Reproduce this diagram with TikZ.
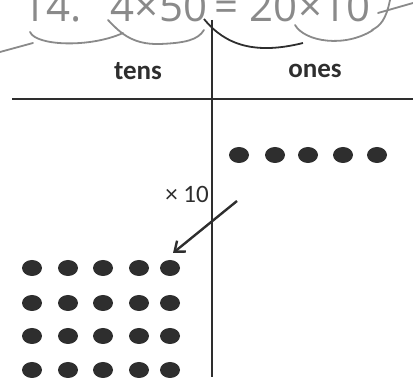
\documentclass[tikz,border=0pt]{standalone}
\usepackage{xcolor}
\usepackage{fontspec}
\setmainfont{Carlito}
\newfontfamily\handfont{Open Sans}
\usepackage{tikz}
\usetikzlibrary{arrows.meta,shapes.geometric}

\definecolor{ink}{HTML}{2E2E2E}
\definecolor{pencil}{HTML}{8A8A8A}

\begin{document}
\begin{tikzpicture}[
			x=1pt, y=-1pt,
			>={Straight Barb[length=9pt,width=14pt]},
			head/.style={font=\fontsize{27}{27}\selectfont\bfseries, text=ink},
			dot/.style={ellipse, fill=ink, inner sep=0pt, minimum width=20pt, minimum height=16pt},
			rule/.style={draw=ink, line width=2.6pt},
			hand/.style={font=\handfont\fontsize{42}{42}\selectfont, text=pencil, anchor=base, inner sep=0pt},
			scrawl/.style={draw=pencil, line width=1.8pt, line cap=round},
			flow/.style={->, draw=ink, line width=2.4pt}
			]
			\useasboundingbox (0,0) rectangle (413,387);
			\clip (0,0) rectangle (413,387);
			
			% handwritten line at the top
			\node[hand] (num) at (52,22) {14.};
			\node[hand] (lhs) at (159,22) {4×50};
			\node[hand] (eq) at (227,22) {=};
			\node[hand] (rhs) at (310,22) {20×10};
			\draw[scrawl] (0,52) -- (33,43);
			\draw[scrawl] (30,32) .. controls (36,46) and (90,48) .. (123,33);
			\draw[scrawl] (108,20) .. controls (118,30) and (130,45) .. (160,44) .. controls (185,43) and (198,40) .. (204,30);
			\draw[scrawl] (295,25) .. controls (305,42) and (345,48) .. (373,30);
			\draw[scrawl] (390,0) .. controls (386,20) and (380,26) .. (372,30);
			\draw[scrawl] (378,13) -- (413,3);
			\draw[draw=ink, line width=1.8pt] (204,19) .. controls (225,45) and (255,55) .. (303,43);
			
			% place value chart
			\coordinate (vtop) at (212,20);
			\coordinate (vbot) at (212,377);
			\coordinate (hleft) at (12,99);
			\coordinate (hright) at (413,99);
			\draw[rule, line width=2.2pt] (vtop) -- (vbot);
			\draw[rule] (hleft) -- (hright);
			\node[head] (tens) at (138,71) {tens};
			\node[head] (ones) at (315,71) {ones};
			
			% counters
			\foreach \x [count=\k] in {239,275,308,343,377}
				\node[dot] (o\k) at (\x,155) {};
			\foreach \y [count=\r] in {268,303,336,370}
				\foreach \x [count=\k] in {32,68,103,139,170}
					\node[dot] (t\r\k) at (\x,\y) {};
			
			% times ten
			\node[font=\fontsize{25}{25}\selectfont, text=ink] (times) at (187,194) {× 10};
			\coordinate (tail) at (237,201);
			\coordinate (tip) at (173,253);
			\draw[flow] (tail) -- (tip);
		\end{tikzpicture}
\end{document}
